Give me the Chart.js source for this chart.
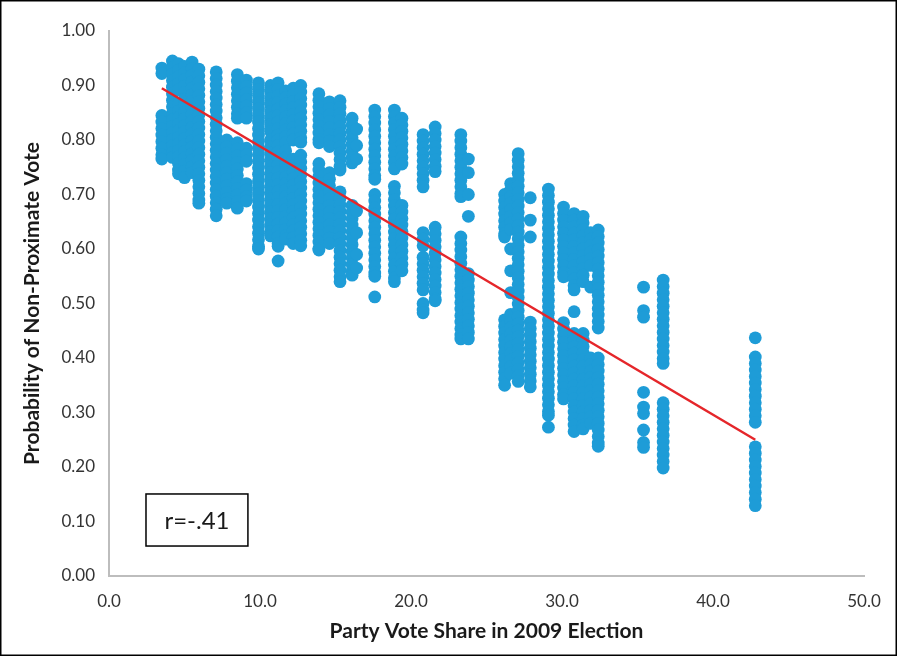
<!DOCTYPE html>
<html>
<head>
<meta charset="utf-8">
<script src="https://cdn.jsdelivr.net/npm/chart.js@4"></script>
<style>
  html, body { margin: 0; padding: 0; background: #fff; }
  #wrap { position: relative; width: 897px; height: 656px; }
</style>
</head>
<body>
<div id="wrap"><canvas id="c" width="897" height="656"></canvas></div>
<script>
// ---- Data ----
const xTitle = "Party Vote Share in 2009 Election";
const yTitle = "Probability of Non-Proximate Vote";
const corrLabel = "r=-.41";

// party vote share of each vertical column of points
const columnX = [
  3.5, 4.2, 4.6, 5.0, 5.5, 5.95,
  7.1, 7.8, 8.5, 9.1,
  9.9, 10.7, 11.2, 11.7, 12.2, 12.7,
  13.9, 14.6, 15.3, 16.1, 16.4, 17.6, 18.9, 19.4,
  20.8, 21.6, 23.3, 23.8,
  26.2, 26.6, 27.1, 27.9,
  29.1, 30.1, 30.8, 31.4, 31.9, 32.4,
  35.4, 36.7, 42.8
];

// probability values in each column (same order as columnX)
const columnY = [
  [0.932,0.922,0.845,0.833,0.821,0.809,0.797,0.785,0.773,0.765],
  [0.945,0.933,0.921,0.909,0.897,0.885,0.873,0.861,0.849,0.837,0.825,0.813,0.801,0.789,0.777,0.768],
  [0.94,0.928,0.916,0.904,0.892,0.865,0.853,0.841,0.829,0.817,0.805,0.793,0.781,0.769,0.757,0.745,0.738],
  [0.935,0.923,0.911,0.899,0.887,0.875,0.863,0.851,0.839,0.827,0.815,0.803,0.791,0.779,0.767,0.755,0.743,0.731],
  [0.943,0.931,0.919,0.907,0.895,0.883,0.871,0.859,0.847,0.835,0.823,0.811,0.799,0.787,0.775,0.763,0.751,0.74],
  [0.93,0.918,0.906,0.894,0.882,0.870,0.858,0.846,0.834,0.822,0.810,0.798,0.786,0.774,0.762,0.750,0.738,0.726,0.714,0.702,0.69,0.684],
  [0.925,0.913,0.901,0.889,0.877,0.865,0.853,0.841,0.829,0.817,0.805,0.793,0.781,0.769,0.757,0.745,0.733,0.721,0.709,0.697,0.685,0.673,0.661],
  [0.80,0.788,0.776,0.764,0.752,0.740,0.728,0.716,0.704,0.692,0.684],
  [0.92,0.908,0.896,0.884,0.872,0.860,0.848,0.84,0.795,0.783,0.771,0.759,0.747,0.735,0.723,0.711,0.699,0.687,0.675],
  [0.91,0.898,0.886,0.874,0.862,0.850,0.84,0.785,0.773,0.761,0.72,0.708,0.696,0.688],
  [0.905,0.893,0.881,0.869,0.857,0.845,0.833,0.821,0.809,0.797,0.785,0.773,0.761,0.749,0.737,0.725,0.713,0.701,0.689,0.677,0.665,0.653,0.641,0.629,0.617,0.605,0.60],
  [0.90,0.888,0.876,0.864,0.852,0.840,0.828,0.816,0.80,0.788,0.776,0.764,0.752,0.740,0.728,0.716,0.704,0.692,0.680,0.668,0.656,0.644,0.632,0.624],
  [0.905,0.893,0.881,0.869,0.857,0.845,0.833,0.821,0.809,0.80,0.79,0.778,0.766,0.754,0.742,0.730,0.718,0.706,0.694,0.682,0.670,0.658,0.646,0.634,0.622,0.61,0.605,0.578],
  [0.89,0.878,0.866,0.854,0.842,0.830,0.818,0.806,0.795,0.78,0.768,0.756,0.744,0.732,0.720,0.708,0.696,0.684,0.672,0.660,0.648,0.636,0.624,0.618],
  [0.895,0.883,0.871,0.859,0.847,0.835,0.823,0.811,0.80,0.765,0.753,0.741,0.729,0.717,0.705,0.693,0.681,0.669,0.657,0.645,0.633,0.621,0.61],
  [0.90,0.888,0.876,0.864,0.852,0.840,0.828,0.816,0.804,0.796,0.772,0.760,0.748,0.736,0.724,0.712,0.700,0.688,0.676,0.664,0.652,0.640,0.628,0.616,0.606],
  [0.885,0.873,0.861,0.849,0.837,0.825,0.813,0.801,0.795,0.757,0.745,0.733,0.721,0.709,0.697,0.685,0.673,0.661,0.649,0.637,0.625,0.613,0.601,0.598],
  [0.87,0.858,0.846,0.834,0.822,0.810,0.798,0.788,0.74,0.728,0.716,0.704,0.692,0.680,0.668,0.656,0.644,0.632,0.620,0.61],
  [0.872,0.860,0.848,0.836,0.824,0.812,0.800,0.788,0.776,0.764,0.752,0.745,0.705,0.693,0.681,0.669,0.657,0.645,0.633,0.621,0.609,0.597,0.585,0.573,0.561,0.549,0.54],
  [0.84,0.828,0.816,0.804,0.792,0.780,0.768,0.758,0.68,0.668,0.656,0.644,0.632,0.620,0.608,0.596,0.584,0.572,0.560,0.552],
  [0.82,0.79,0.765,0.67,0.63,0.59,0.565],
  [0.855,0.843,0.831,0.819,0.807,0.795,0.783,0.771,0.759,0.747,0.735,0.728,0.70,0.688,0.676,0.664,0.652,0.640,0.628,0.616,0.604,0.592,0.580,0.568,0.556,0.55,0.512],
  [0.855,0.843,0.831,0.819,0.807,0.795,0.783,0.771,0.759,0.747,0.715,0.703,0.691,0.679,0.667,0.655,0.643,0.631,0.619,0.607,0.595,0.583,0.571,0.559,0.547,0.54],
  [0.84,0.828,0.816,0.804,0.792,0.780,0.768,0.756,0.68,0.668,0.656,0.644,0.632,0.620,0.608,0.596,0.584,0.572,0.56],
  [0.81,0.798,0.786,0.774,0.762,0.750,0.738,0.726,0.714,0.63,0.618,0.606,0.585,0.573,0.561,0.549,0.537,0.525,0.50,0.488,0.483],
  [0.824,0.812,0.800,0.788,0.776,0.764,0.752,0.742,0.64,0.628,0.616,0.604,0.592,0.580,0.568,0.556,0.544,0.532,0.520,0.508,0.505],
  [0.81,0.798,0.786,0.774,0.762,0.750,0.738,0.726,0.714,0.702,0.696,0.622,0.610,0.598,0.586,0.574,0.562,0.550,0.538,0.526,0.514,0.502,0.490,0.478,0.466,0.454,0.442,0.435],
  [0.765,0.74,0.70,0.66,0.555,0.543,0.531,0.519,0.507,0.495,0.483,0.471,0.459,0.447,0.435],
  [0.70,0.688,0.676,0.664,0.652,0.640,0.628,0.622,0.47,0.458,0.446,0.434,0.422,0.410,0.398,0.386,0.374,0.362,0.350],
  [0.72,0.708,0.696,0.684,0.672,0.660,0.648,0.636,0.60,0.56,0.52,0.48,0.468,0.456,0.444,0.432,0.420,0.408,0.396,0.384,0.372],
  [0.775,0.763,0.751,0.739,0.727,0.715,0.703,0.691,0.679,0.667,0.655,0.643,0.631,0.619,0.607,0.595,0.583,0.571,0.559,0.547,0.535,0.523,0.511,0.499,0.487,0.475,0.463,0.451,0.439,0.427,0.415,0.403,0.391,0.379,0.367,0.357],
  [0.694,0.653,0.622,0.466,0.454,0.442,0.43,0.418,0.406,0.394,0.382,0.370,0.358,0.347],
  [0.71,0.698,0.686,0.674,0.662,0.650,0.638,0.626,0.614,0.602,0.590,0.578,0.566,0.554,0.542,0.530,0.518,0.506,0.494,0.482,0.470,0.458,0.446,0.434,0.422,0.410,0.398,0.386,0.374,0.362,0.350,0.338,0.326,0.314,0.302,0.295,0.273],
  [0.677,0.665,0.653,0.641,0.629,0.617,0.605,0.593,0.581,0.569,0.557,0.549,0.465,0.453,0.441,0.429,0.417,0.405,0.393,0.381,0.369,0.357,0.345,0.333,0.325],
  [0.665,0.653,0.641,0.629,0.617,0.605,0.593,0.581,0.569,0.557,0.545,0.533,0.525,0.485,0.445,0.433,0.421,0.409,0.397,0.385,0.373,0.361,0.349,0.337,0.325,0.313,0.301,0.289,0.277,0.265],
  [0.66,0.648,0.636,0.624,0.612,0.60,0.588,0.576,0.564,0.552,0.54,0.445,0.433,0.421,0.409,0.397,0.385,0.373,0.361,0.349,0.337,0.325,0.313,0.301,0.289,0.277,0.27],
  [0.63,0.618,0.606,0.594,0.582,0.57,0.53,0.40,0.388,0.376,0.364,0.352,0.340,0.328,0.316,0.304,0.292,0.28],
  [0.635,0.623,0.611,0.599,0.587,0.575,0.563,0.551,0.539,0.527,0.515,0.503,0.491,0.479,0.467,0.455,0.40,0.388,0.376,0.364,0.352,0.340,0.328,0.316,0.304,0.292,0.280,0.268,0.256,0.244,0.238],
  [0.53,0.487,0.475,0.337,0.31,0.298,0.268,0.245,0.236],
  [0.543,0.531,0.519,0.507,0.495,0.483,0.471,0.459,0.447,0.435,0.423,0.411,0.399,0.39,0.318,0.306,0.294,0.282,0.270,0.258,0.246,0.234,0.222,0.210,0.198],
  [0.437,0.402,0.390,0.378,0.366,0.354,0.342,0.330,0.318,0.306,0.294,0.282,0.237,0.225,0.213,0.201,0.189,0.177,0.165,0.153,0.141,0.129]
];

// fitted trend line end points
const trendX = [3.5, 42.8];
const trendY = [0.895, 0.25];

// ---- Build datasets ----
const scatterPoints = [];
columnX.forEach((x, i) => columnY[i].forEach(y => scatterPoints.push({x: x, y: y})));
const trendPoints = trendX.map((x, i) => ({x: x, y: trendY[i]}));

const FONT = "Lato, 'Open Sans', sans-serif";

const frame = {
  id: 'frame',
  afterDraw(chart) {
    const ctx = chart.ctx;
    const xs = chart.scales.x, ys = chart.scales.y;
    ctx.save();
    // correlation box
    const l = xs.getPixelForValue(2.45), r = xs.getPixelForValue(9.2);
    const t = ys.getPixelForValue(0.1505), b = ys.getPixelForValue(0.055);
    ctx.strokeStyle = '#000';
    ctx.lineWidth = 1.5;
    ctx.strokeRect(l, t, r - l, b - t);
    ctx.fillStyle = '#1a1a1a';
    ctx.font = "24px " + FONT;
    ctx.textAlign = 'center';
    ctx.textBaseline = 'middle';
    ctx.fillText(corrLabel, (l + r) / 2, (t + b) / 2 + 1);
    // outer frame
    ctx.lineWidth = 1.5;
    ctx.strokeRect(0.75, 0.75, chart.width - 1.5, chart.height - 1.5);
    ctx.restore();
  }
};

new Chart(document.getElementById('c'), {
  type: 'scatter',
  data: {
    datasets: [
      {
        type: 'line',
        data: trendPoints,
        borderColor: '#E5262A',
        borderWidth: 2.5,
        pointRadius: 0,
        fill: false,
        tension: 0
      },
      {
        data: scatterPoints,
        backgroundColor: '#1E9CD7',
        borderWidth: 0,
        pointRadius: 6.4,
        pointHoverRadius: 6.4
      }
    ]
  },
  options: {
    responsive: false,
    animation: false,
    devicePixelRatio: 1,
    layout: { padding: { top: 31, right: 33, bottom: 0, left: 0 } },
    plugins: { legend: { display: false }, tooltip: { enabled: false } },
    scales: {
      x: {
        type: 'linear', min: 0, max: 50,
        afterFit(s) { s.height = 80; },
        grid: { display: false, drawTicks: false },
        border: { display: true, color: '#BDBDBD', width: 2 },
        ticks: { stepSize: 10, padding: 15, color: '#333', font: { family: FONT, size: 17 },
                 callback: v => Number(v).toFixed(1), maxRotation: 0 },
        title: { display: true, text: xTitle, color: '#1a1a1a',
                 font: { family: FONT, size: 21, weight: 'bold' }, padding: { top: 0, bottom: 12 } }
      },
      y: {
        type: 'linear', min: 0, max: 1,
        afterFit(s) { s.width = 109; },
        grid: { display: false, drawTicks: false },
        border: { display: true, color: '#BDBDBD', width: 2 },
        ticks: { stepSize: 0.1, padding: 14, color: '#333', font: { family: FONT, size: 17 },
                 callback: v => Number(v).toFixed(2) },
        title: { display: true, text: yTitle, color: '#1a1a1a',
                 font: { family: FONT, size: 21, weight: 'bold' }, padding: { top: 20, bottom: 0 } }
      }
    }
  },
  plugins: [frame]
});
</script>
</body>
</html>
